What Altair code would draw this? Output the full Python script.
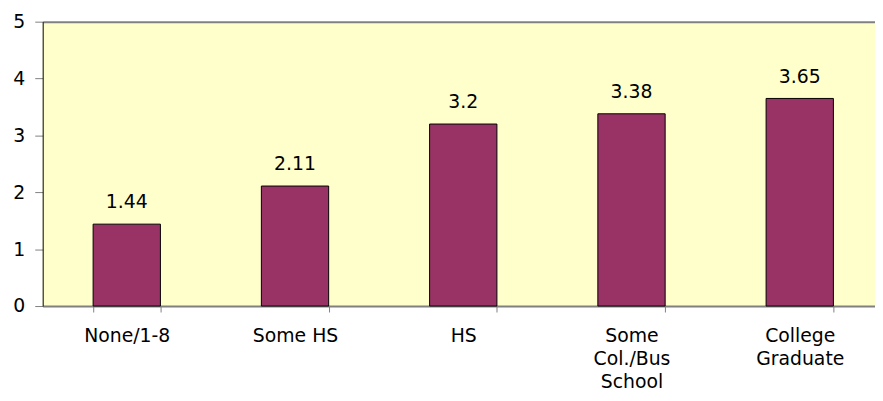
import altair as alt
import pandas as pd

categories = ["None/1-8", "Some HS", "HS", "Some|Col./Bus|School", "College|Graduate"]
values = [1.44, 2.11, 3.2, 3.38, 3.65]
y_ticks = [0, 1, 2, 3, 4, 5]

df = pd.DataFrame({"category": categories, "value": values})

FONT = "DejaVu Sans"
FS = 19

x_enc = alt.X(
    "category:N",
    sort=None,
    scale=alt.Scale(paddingInner=0.6, paddingOuter=0.2735, align=0.548),
    axis=alt.Axis(
        title=None,
        labelAngle=0,
        labelExpr="split(datum.label, '|')",
        labelLineHeight=23,
        labelFont=FONT,
        labelFontSize=FS,
        labelColor="black",
        labelPadding=15,
        labelBaseline="top",
        tickBand="extent",
        tickSize=6,
        tickColor="#808080",
        domainColor="#808080",
        domainWidth=2,
        labelLimit=0,
    ),
)

y_enc = alt.Y(
    "value:Q",
    scale=alt.Scale(domain=[0, 5], nice=False),
    axis=alt.Axis(
        title=None,
        values=y_ticks,
        labelFont=FONT,
        labelFontSize=FS,
        labelColor="black",
        labelPadding=10,
        tickSize=8,
        tickColor="#808080",
        domainColor="black",
        domainWidth=1,
        grid=True,
        gridColor="#808080",
        gridWidth=2,
        gridOpacity={"condition": {"test": "datum.value == 5", "value": 1}, "value": 0},
    ),
)

base = alt.Chart(df)

bars = base.mark_bar(color="#993366", stroke="black", strokeWidth=1).encode(x=x_enc, y=y_enc)
labels = base.mark_text(
    dy=-16, baseline="alphabetic", font=FONT, fontSize=FS, color="black"
).encode(x=x_enc, y=y_enc, text=alt.Text("value:Q"))

chart = (
    alt.layer(bars, labels)
    .properties(
        width=840,
        height=287,
        autosize="none",
        padding={"left": 35, "top": 12, "right": 0, "bottom": 90},
        background="white",
    )
    .configure_view(fill="#FFFFCC", stroke=None)
)

chart.save("out.html", embed_options={"renderer": "svg", "actions": False})
